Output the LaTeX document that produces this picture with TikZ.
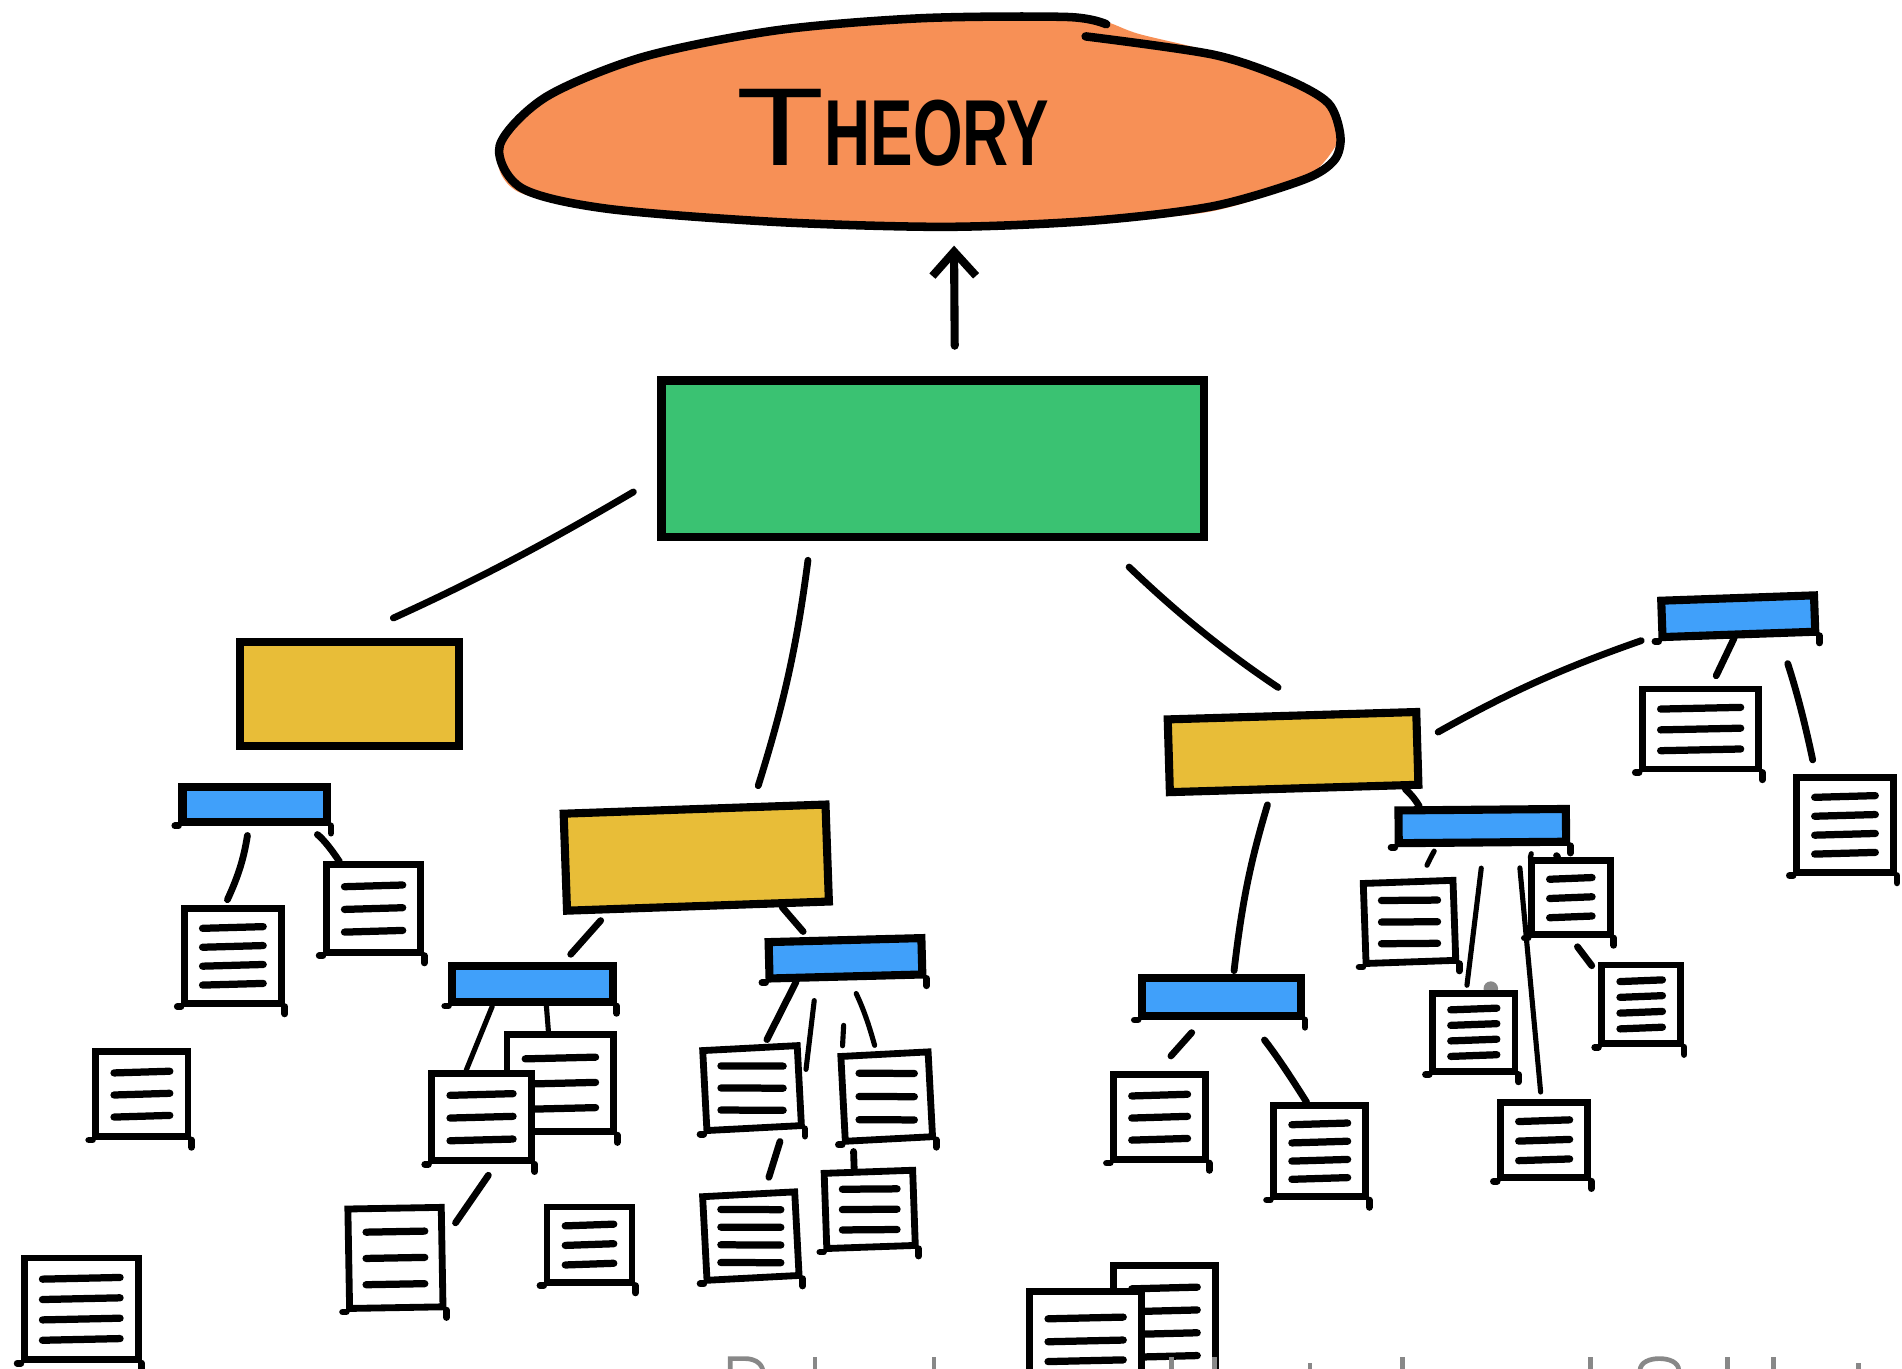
\documentclass[tikz,border=0pt]{standalone}
\usepackage{graphicx}
\usepackage{fontspec}
\setmainfont{Liberation Sans}
\usepackage{xcolor}
\usetikzlibrary{arrows.meta,calc}

\definecolor{theoryorange}{HTML}{F79056}
\definecolor{coregreen}{HTML}{3AC272}
\definecolor{topicgold}{HTML}{E8BD38}
\definecolor{barblue}{HTML}{40A0FA}
\definecolor{markgrey}{HTML}{888888}

\begin{document}
\begin{tikzpicture}[
    node distance=2cm,
    stub/.style={draw, line width=1.6pt, line cap=round},
    overrun/.style={append after command={
        (\tikzlastnode.south east) edge[stub] ([yshift=-.06cm]\tikzlastnode.south east)
        (\tikzlastnode.south west) edge[stub] ([xshift=-.03cm]\tikzlastnode.south west)}},
    corebox/.style={draw, rectangle, line width=2pt, fill=coregreen, inner sep=0pt, minimum width=4.47cm, minimum height=1.29cm},
    goldbox/.style={draw, rectangle, line width=1.9pt, fill=topicgold, inner sep=0pt},
    bluebar/.style={draw, rectangle, line width=1.9pt, fill=barblue, inner sep=0pt, overrun},
    docline/.style={line width=1.7pt, line cap=round},
    striped/.style={path picture={
        \foreach \ty in {#1} {
            \draw[docline] ([xshift=.15cm, yshift=-.007cm]$(path picture bounding box.north west)!\ty!(path picture bounding box.south west)$)
                -- ([xshift=-.15cm, yshift=.007cm]$(path picture bounding box.north east)!\ty!(path picture bounding box.south east)$);
        }}},
    doc/.style={draw, rectangle, line width=1.6pt, fill=white, inner sep=0pt, overrun},
    docthree/.style={doc, striped={.24,.5,.76}},
    docfour/.style={doc, striped={.2,.4,.6,.8}},
    link/.style={line width=1.6pt, line cap=round},
    thinlink/.style={line width=1.2pt, line cap=round},
    arrow/.style={-{Straight Barb[length=.2cm, width=.36cm, line width=1.9pt]}, line width=1.9pt, line cap=round}
]
    \useasboundingbox (-7.69,-7.50) rectangle (7.99,3.78);

    % Theory blob
    \fill[theoryorange] plot[smooth cycle] coordinates {(1.43,3.60) (1.11,3.66) (-.09,3.65) (-1.29,3.53) (-2.39,3.31) (-3.19,2.98) (-3.58,2.52) (-3.42,2.20) (-2.69,2.06) (-1.29,1.95) (.11,1.91) (1.31,1.95) (2.31,2.04) (3.06,2.30) (3.36,2.66) (3.26,2.93) (2.91,3.13) (2.31,3.35) (1.70,3.50)};
    \draw[line width=2pt, line cap=round] plot[smooth] coordinates {(1.43,3.58) (1.11,3.64) (-.09,3.63) (-1.29,3.53) (-2.39,3.31) (-3.19,2.98) (-3.57,2.58) (-3.39,2.23) (-2.69,2.06) (-1.29,1.95) (.11,1.91) (1.31,1.96) (2.31,2.08) (3.06,2.30) (3.31,2.46) (3.36,2.66) (3.26,2.93) (2.91,3.13) (2.31,3.33) (1.26,3.48)};

    % Big boxes
    \node[corebox] (core) {};
    \node[above of=core, xshift=-.33cm, yshift=.73cm, inner sep=0pt] (theory) {\fontsize{26}{26}\selectfont\scalebox{1.3}[1]{T}\bfseries\fontsize{22}{22}\selectfont\scalebox{.68}[1]{HEORY}};
    \node[goldbox, below of=core, xshift=-4.81cm, yshift=.06cm, minimum width=1.81cm, minimum height=.86cm] (goldleft) {};
    \node[goldbox, below of=core, xshift=-1.95cm, yshift=-1.29cm, minimum width=2.16cm, minimum height=.80cm, rotate=2] (goldmid) {};
    \node[goldbox, below of=core, xshift=2.97cm, yshift=-.42cm, minimum width=2.05cm, minimum height=.60cm, rotate=1.7] (goldright) {};

    % Blue bars
    \node[bluebar, below of=goldleft, xshift=-.78cm, yshift=1.09cm, minimum width=1.19cm, minimum height=.29cm] (blueleft) {};
    \node[bluebar, below of=goldmid, xshift=-1.35cm, yshift=.96cm, minimum width=1.32cm, minimum height=.30cm] (bluemida) {};
    \node[bluebar, below of=goldmid, xshift=1.23cm, yshift=1.17cm, minimum width=1.26cm, minimum height=.30cm, rotate=1.5] (bluemidb) {};
    \node[bluebar, below of=goldright, xshift=-.59cm, yshift=-.02cm, minimum width=1.31cm, minimum height=.31cm] (bluerighta) {};
    \node[bluebar, below of=goldright, xshift=1.56cm, yshift=1.39cm, minimum width=1.38cm, minimum height=.27cm, rotate=.5] (bluerightb) {};
    \node[bluebar, below of=goldright, xshift=3.67cm, yshift=3.12cm, minimum width=1.26cm, minimum height=.30cm, rotate=2] (bluetop) {};

    % Pages, left
    \node[docthree, below of=blueleft, xshift=.98cm, yshift=1.14cm, minimum width=.78cm, minimum height=.72cm] (pagea) {};
    \node[docfour, below of=blueleft, xshift=-.18cm, yshift=.75cm, minimum width=.80cm, minimum height=.78cm] (pageb) {};
    \node[docthree, below of=pageb, xshift=-.75cm, yshift=.86cm, minimum width=.76cm, minimum height=.70cm] (pagec) {};
    \node[docfour, below of=pagec, xshift=-.50cm, yshift=.23cm, minimum width=.94cm, minimum height=.84cm] (paged) {};

    % Pages, middle
    \node[docthree, below of=bluemida, xshift=.23cm, yshift=1.18cm, minimum width=.88cm, minimum height=.80cm] (pagee) {};
    \node[docthree, below of=bluemida, xshift=-.42cm, yshift=.90cm, minimum width=.82cm, minimum height=.72cm] (pagef) {};
    \node[docthree, below of=pagef, xshift=-.71cm, yshift=.84cm, minimum width=.77cm, minimum height=.82cm, rotate=1] (pageg) {};
    \node[docthree, below of=pagef, xshift=.89cm, yshift=.95cm, minimum width=.70cm, minimum height=.62cm] (pageh) {};
    \node[docthree, below of=bluemidb, xshift=-.77cm, yshift=.93cm, minimum width=.78cm, minimum height=.66cm, rotate=3] (pagei) {};
    \node[docthree, below of=bluemidb, xshift=.34cm, yshift=.86cm, minimum width=.72cm, minimum height=.70cm, rotate=3] (pagej) {};
    \node[docfour, below of=pagei, xshift=-.01cm, yshift=.78cm, minimum width=.76cm, minimum height=.69cm, rotate=3] (pagek) {};
    \node[docthree, below of=pagej, xshift=-.14cm, yshift=1.07cm, minimum width=.73cm, minimum height=.62cm, rotate=2] (pagel) {};

    % Pages, right
    \node[docthree, below of=bluerighta, xshift=-.51cm, yshift=1.01cm, minimum width=.76cm, minimum height=.70cm] (pagem) {};
    \node[docfour, below of=bluerighta, xshift=.81cm, yshift=.73cm, minimum width=.76cm, minimum height=.75cm] (pagen) {};
    \node[docthree, below of=bluerightb, xshift=-.60cm, yshift=1.21cm, minimum width=.74cm, minimum height=.66cm, rotate=2] (pageo) {};
    \node[docthree, below of=bluerightb, xshift=.73cm, yshift=1.41cm, minimum width=.65cm, minimum height=.61cm] (pagep) {};
    \node[docfour, below of=pagep, xshift=.58cm, yshift=1.12cm, minimum width=.65cm, minimum height=.65cm] (pageq) {};
    \node[circle, fill=markgrey, inner sep=0pt, minimum size=.12cm, below of=bluerightb, xshift=.07cm, yshift=.66cm] (smudge) {};
    \node[docfour, below of=bluerightb, xshift=-.07cm, yshift=.30cm, minimum width=.68cm, minimum height=.64cm] (pager) {};
    \node[docthree, below of=bluerightb, xshift=.51cm, yshift=-.59cm, minimum width=.72cm, minimum height=.62cm] (pages) {};
    \node[docthree, below of=bluetop, xshift=-.31cm, yshift=1.07cm, minimum width=.96cm, minimum height=.66cm] (paget) {};
    \node[docfour, below of=bluetop, xshift=.88cm, yshift=.28cm, minimum width=.80cm, minimum height=.78cm] (pageu) {};

    % Pages, bottom edge
    \node[docfour, below of=pagem, xshift=.04cm, yshift=.31cm, minimum width=.84cm, minimum height=.94cm] (pagev) {};
    \node[doc, striped={.25,.47,.66}, below of=pagem, xshift=-.61cm, yshift=.13cm, minimum width=.92cm, minimum height=.86cm] (pagew) {};

    % Arrow up to the theory
    \draw[arrow, shorten <=.25cm, shorten >=.65cm] (core.75) -- (theory.-33);

    % Links from the big box
    \draw[link, shorten <=.23cm, shorten >=.39cm] (core.184) to[bend left=3] (goldleft.89);
    \draw[link, shorten <=.16cm, shorten >=.15cm] (core.214) to[bend left=5] (goldmid.42);
    \draw[link, shorten <=.31cm, shorten >=.35cm] (core.334) to[bend right=5] (goldright.62);

    % Links on the left
    \draw[link, shorten <=.08cm, shorten >=.05cm] (blueleft.255) to[bend left=8] (pageb.99);
    \draw[link, shorten <=.12cm] (blueleft.337) to[bend left=10] (pagea.126);

    % Links in the middle
    \draw[link, shorten <=.08cm, shorten >=.08cm] (goldmid.210) -- (bluemida.35);
    \draw[link, shorten >=.06cm] (goldmid.328) -- (bluemidb.149);
    \draw[thinlink] (bluemida.209) -- (pagef.108);
    \draw[thinlink] (bluemida.302) -- (pagee.103);
    \draw[link, shorten >=.04cm] (bluemidb.204) -- (pagei.71);
    \draw[thinlink, shorten <=.16cm, shorten >=.20cm] (bluemidb.217) -- (pagei.351);
    \draw[thinlink, shorten <=.37cm, shorten >=.44cm] (bluemidb.270) -- (pagej.180);
    \draw[thinlink, shorten <=.12cm, shorten >=.05cm] (bluemidb.280) to[bend left=5] (pagej.100);
    \draw[link, shorten <=.11cm, shorten >=.15cm] (pagef.287) -- (pageg.21);
    \draw[link, shorten <=.10cm, shorten >=.11cm] (pagei.304) -- (pagek.70);
    \draw[link, shorten <=.06cm] (pagej.232) -- (pagel.109);

    % Links on the right
    \draw[link, shorten <=.16cm, shorten >=.15cm] (goldright.3) to[bend left=5] (bluetop.191);
    \draw[link] (goldright.340) to[bend left=8] (bluerightb.162);
    \draw[link, shorten <=.10cm, shorten >=.03cm] (goldright.240) to[bend right=5] (bluerighta.62);
    \draw[link, shorten <=.14cm, shorten >=.17cm] (bluerighta.231) -- (pagem.93);
    \draw[link, shorten <=.21cm] (bluerighta.320) to[bend left=3] (pagen.105);
    \draw[link, shorten >=.09cm] (bluetop.257) -- (paget.76);
    \draw[link, shorten <=.23cm, shorten >=.12cm] (bluetop.331) to[bend left=3] (pageu.120);
    \draw[thinlink, shorten <=.04cm, shorten >=.11cm] (bluerightb.204) to[bend right=6] (pageo.71);
    \draw[thinlink, shorten <=.18cm, shorten >=.04cm] (bluerightb.274) -- (pager.100);
    \draw[thinlink, shorten <=.18cm, shorten >=.06cm] (bluerightb.330) -- (pages.94);
    \draw[link, shorten <=.10cm] (bluerightb.343) -- (pagep.108);
    \draw[thinlink, shorten <=.10cm, shorten >=.03cm] (bluerightb.338) -- (pagep.135);
    \draw[link, shorten <=.09cm, shorten >=.09cm] (pagep.270) -- (pageq.145);

    % Grey marks along the bottom edge
    \foreach \gx in {-.97,.01,1.97,2.32,3.87,5.42,6.55,6.93}
        \draw[markgrey, line width=1.1pt] (\gx,-7.52) -- (\gx,-7.41);
    \foreach \gx in {3.11,7.63}
        \draw[markgrey, line width=1.1pt] (\gx,-7.52) -- (\gx,-7.46);
    \draw[markgrey, line width=1.1pt] (-1.67,-7.52) -- (-1.67,-7.42) -- (-1.55,-7.42) to[out=0, in=100] (-1.40,-7.52);
    \draw[markgrey, line width=1.1pt] (5.83,-7.52) to[out=90, in=180] (5.99,-7.42) to[out=0, in=90] (6.15,-7.52);
\end{tikzpicture}
\end{document}
